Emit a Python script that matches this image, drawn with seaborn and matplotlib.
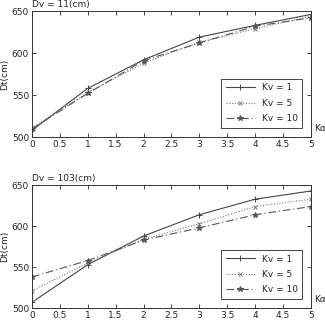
import numpy as np
import pandas as pd
import matplotlib
matplotlib.use('Agg')
import matplotlib.pyplot as plt
import seaborn as sns

# Data
k_alpha = [0, 1, 2, 3, 4, 5]
series_labels = ['Kv = 1', 'Kv = 5', 'Kv = 10']

# Dv = 11 cm
top_kv1 = [508, 558, 592, 619, 633, 646]
top_kv5 = [511, 553, 588, 613, 629, 644]
top_kv10 = [510, 552, 591, 612, 632, 642]

# Dv = 103 cm
bot_kv1 = [507, 553, 588, 614, 633, 643]
bot_kv5 = [521, 555, 584, 603, 624, 633]
bot_kv10 = [538, 558, 583, 598, 614, 624]

titles = ['Dv = 11(cm)', 'Dv = 103(cm)']
yticks = [500, 550, 600, 650]
xticks = [0, 0.5, 1, 1.5, 2, 2.5, 3, 3.5, 4, 4.5, 5]
xtick_labels = ['0', '0.5', '1', '1.5', '2', '2.5', '3', '3.5', '4', '4.5', '5']

sns.set_style('ticks')
plt.rcParams['font.family'] = ['DejaVu Sans']
plt.rcParams['font.size'] = 6.5

styles = [
    dict(color='#444444', linestyle='-', marker='+', markersize=5),
    dict(color='#777777', linestyle=(0, (1, 1.5)), marker='x', markersize=3),
    dict(color='#555555', linestyle=(0, (7, 2.5, 1, 2.5)), marker='*', markersize=4),
]

fig = plt.figure(figsize=(3.25, 3.25), dpi=100)
ax_top = fig.add_axes([0.098, 0.578, 0.859, 0.388])
ax_bot = fig.add_axes([0.098, 0.052, 0.859, 0.378])

panels = [
    (ax_top, [top_kv1, top_kv5, top_kv10], titles[0]),
    (ax_bot, [bot_kv1, bot_kv5, bot_kv10], titles[1]),
]

for ax, vals, title in panels:
    for label, y, st in zip(series_labels, vals, styles):
        df = pd.DataFrame({'Ka': k_alpha, 'Dt': y})
        sns.lineplot(data=df, x='Ka', y='Dt', ax=ax, label=label,
                     linewidth=0.8, markeredgewidth=0.7,
                     markeredgecolor=st['color'], **st)
    ax.set_xlim(0, 5)
    ax.set_ylim(500, 650)
    ax.set_xticks(xticks)
    ax.set_xticklabels(xtick_labels)
    ax.set_yticks(yticks)
    ax.tick_params(direction='in', length=3, width=0.6, labelsize=6.5,
                   top=True, right=True, pad=2)
    for sp in ax.spines.values():
        sp.set_linewidth(0.7)
        sp.set_color('#333333')
    ax.set_xlabel('')
    ax.set_ylabel('Dt(cm)', fontsize=6.5, labelpad=2)
    ax.text(0.0, 1.02, title, transform=ax.transAxes, fontsize=6.5,
            ha='left', va='bottom')
    ax.text(1.01, 0.03, 'K\u03b1', transform=ax.transAxes, fontsize=6.5,
            ha='left', va='bottom')
    leg = ax.legend(loc='lower right', fontsize=6.5, handlelength=3.2,
                    fancybox=False, framealpha=1, borderpad=0.5,
                    labelspacing=0.7, bbox_to_anchor=(0.985, 0.04))
    leg.get_frame().set_edgecolor('#444444')
    leg.get_frame().set_linewidth(0.7)

fig.savefig('out.png', dpi=100)
